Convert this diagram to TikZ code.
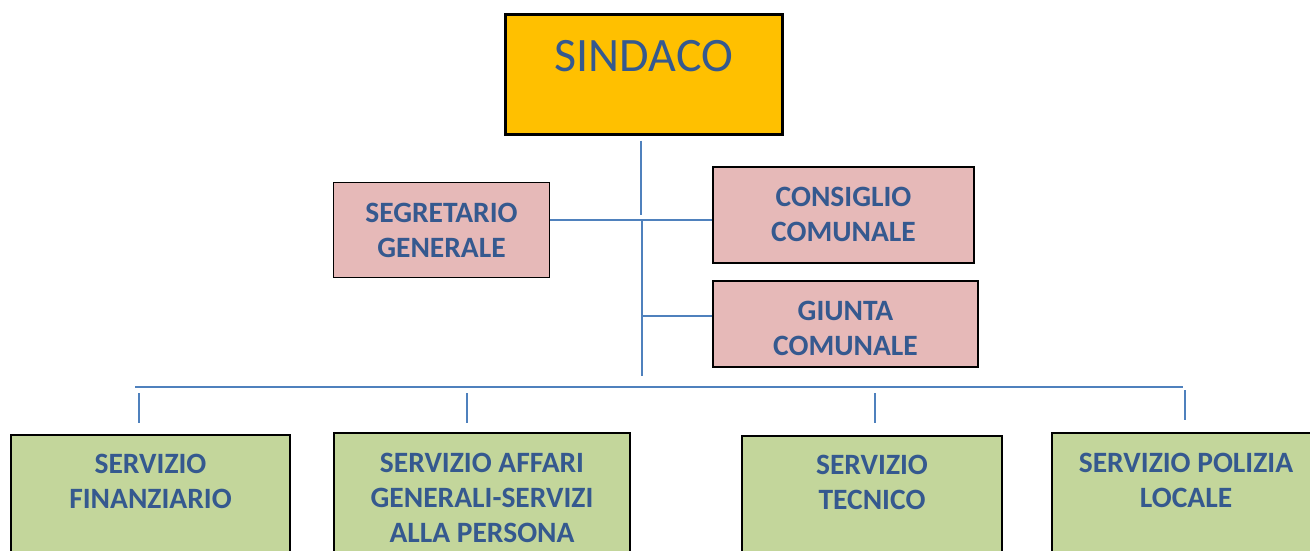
\documentclass[tikz,border=0pt]{standalone}
\usepackage{fontspec}
\setmainfont{Carlito}
\usetikzlibrary{positioning}
\definecolor{txtblue}{HTML}{35598F}
\definecolor{lineblue}{HTML}{4F81BD}
\definecolor{boxgold}{HTML}{FFC000}
\definecolor{boxpink}{HTML}{E6B9B8}
\definecolor{boxgreen}{HTML}{C3D69B}
\begin{document}
\begin{tikzpicture}[x=1pt,y=-1pt]
\tikzstyle{office}=[draw=black,line width=2pt,inner sep=0pt,anchor=north west]
\tikzstyle{topbox}=[office,fill=boxgold,line width=2.5pt]
\tikzstyle{staffbox}=[office,fill=boxpink]
\tikzstyle{servbox}=[office,fill=boxgreen]
\tikzstyle{caption}=[text=txtblue,font=\fontsize{29.5}{35}\selectfont\bfseries,align=center,inner sep=0pt,anchor=north]
\tikzstyle{link}=[draw=lineblue,line width=2pt]
\useasboundingbox (0,0) rectangle (1310,550);
\clip (0,0) rectangle (1310,550);

% vertici
\node[topbox,minimum width=277pt,minimum height=120pt] (sindaco) at (504,13) {};
\node[staffbox,line width=1pt,minimum width=216pt,minimum height=95pt] (segretario) at (333,182) {};
\node[staffbox,minimum width=261pt,minimum height=96pt] (consiglio) at (712,166) {};
\node[staffbox,minimum width=265pt,minimum height=86pt] (giunta) at (712,280) {};
\node[servbox,minimum width=279pt,minimum height=160pt] (fin) at (10,434) {};
\node[servbox,minimum width=296pt,minimum height=160pt] (aff) at (333,432) {};
\node[servbox,minimum width=260pt,minimum height=160pt] (tec) at (741,435) {};
\node[servbox,minimum width=268pt,minimum height=160pt] (pol) at (1051,432) {};

% testi
\node[caption,font=\fontsize{48}{58}\selectfont] (sindacoT) at ([yshift=-27pt]sindaco.north) {SINDACO};
\node[caption] (segretarioT) at ([yshift=-21pt]segretario.north) {SEGRETARIO\\GENERALE};
\node[caption] (consiglioT) at ([yshift=-21pt]consiglio.north) {CONSIGLIO\\COMUNALE};
\node[caption] (giuntaT) at ([yshift=-21pt]giunta.north) {GIUNTA\\COMUNALE};
\node[caption] (finT) at ([yshift=-20pt]fin.north) {SERVIZIO\\FINANZIARIO};
\node[caption] (affT) at ([yshift=-21pt]aff.north) {SERVIZIO AFFARI\\GENERALI-SERVIZI\\ALLA PERSONA};
\node[caption] (tecT) at ([yshift=-20pt]tec.north) {SERVIZIO\\TECNICO};
\node[caption] (polT) at ([yshift=-21pt]pol.north) {SERVIZIO POLIZIA\\LOCALE};

% collegamenti
\coordinate (hubtop) at (641,215);
\coordinate (hubmid) at (642,220);
\coordinate (hubgiu) at (642,316);
\coordinate (hubbot) at (642,376);
\draw[link] ([yshift=-5pt]sindaco.south -| hubtop) -- (hubtop);
\draw[link] (segretario.east |- hubmid) -- (consiglio.west |- hubmid);
\draw[link] (hubmid) -- (hubbot);
\draw[link] (hubgiu) -- (giunta.west |- hubgiu);

\coordinate (busL) at (135,387);
\coordinate (busR) at (1183,387);
\draw[link] (busL) -- (busR);
\foreach \x/\n in {139/fin,467/aff,875/tec}
  \draw[link] (\x,393) -- (\x,423);
\draw[link] (1185,390) -- (1185,420);
\end{tikzpicture}
\end{document}
